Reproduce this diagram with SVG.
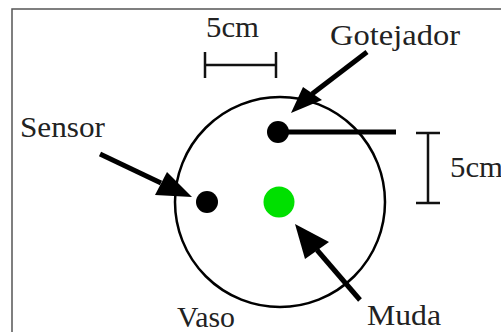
<svg xmlns="http://www.w3.org/2000/svg" width="501" height="332" viewBox="0 0 501 332">
<style>
.lbl{font-family:"Liberation Serif","Times New Roman",serif;font-size:29px;fill:#222}
.shaft{stroke:#000;stroke-width:5;fill:none}
.head{fill:#000}
.bar{stroke:#111;stroke-width:2.5;fill:none}
</style>
<rect x="0" y="0" width="501" height="332" fill="#fff"/>
<path d="M12,332 V9 H501" stroke="#555" stroke-width="1.5" fill="none"/>
<g id="vaso">
<circle cx="280" cy="202" r="105" fill="none" stroke="#000" stroke-width="2.5"/>
<text class="lbl" x="177" y="327" textLength="58" lengthAdjust="spacingAndGlyphs">Vaso</text>
</g>
<g id="gotejador">
<line x1="278" y1="132" x2="396" y2="132" stroke="#000" stroke-width="5"/>
<circle cx="278" cy="132" r="11" fill="#000"/>
<text class="lbl" x="330" y="45" textLength="130" lengthAdjust="spacingAndGlyphs">Gotejador</text>
</g>
<g id="sensor">
<circle cx="207" cy="202" r="11" fill="#000"/>
<text class="lbl" x="20" y="137" textLength="85" lengthAdjust="spacingAndGlyphs">Sensor</text>
</g>
<g id="muda">
<circle cx="279" cy="202" r="15.5" fill="#00e000"/>
<text class="lbl" x="367" y="325" textLength="74" lengthAdjust="spacingAndGlyphs">Muda</text>
</g>
<g id="escala-h">
<path class="bar" d="M205,52 V78 M205,65 H276 M276,52 V78"/>
<text class="lbl" x="206" y="37" textLength="53" lengthAdjust="spacingAndGlyphs">5cm</text>
</g>
<g id="escala-v">
<path class="bar" d="M416,133 H440 M428,133 V203 M416,203 H440"/>
<text class="lbl" x="450" y="177" textLength="53" lengthAdjust="spacingAndGlyphs">5cm</text>
</g>
<g id="connectors">
<line class="shaft" x1="367" y1="52" x2="312" y2="94"/>
<polygon class="head" points="291,113 303,87 322,100"/>
<line class="shaft" x1="100" y1="154" x2="161" y2="183"/>
<polygon class="head" points="192,197 167,172 155,195"/>
<line class="shaft" x1="360" y1="300" x2="317" y2="250"/>
<polygon class="head" points="295,224 305,259 329,242"/>
</g>
</svg>
